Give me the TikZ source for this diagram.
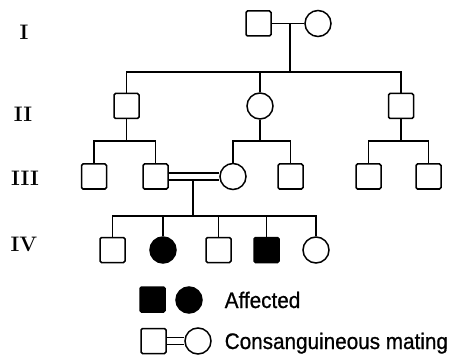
\documentclass[tikz,border=0pt]{standalone}
\usepackage{fontspec}
\newfontfamily\legfont[FakeStretch=0.92,FakeBold=0.8]{Liberation Sans}
\begin{document}
\begin{tikzpicture}[x=1pt,y=-1pt,line width=1.5pt,
  male/.style={draw,rectangle,minimum size=25pt,inner sep=0pt,rounded corners=1.5pt},
  female/.style={draw,circle,minimum size=26pt,inner sep=0pt},
  aff/.style={fill=black},
  gen/.style={font=\bfseries\fontsize{21}{21}\selectfont,inner sep=0pt},
  leg/.style={font=\legfont\fontsize{22.5}{22.5}\selectfont,inner sep=0pt,anchor=base west},
  cons/.style={double,double distance=5.6pt}]
\useasboundingbox (0,0) rectangle (452,358);
% generation labels
\node[gen] (gI) at (24,32) {I};
\node[gen] (gII) at (23,114) {II};
\node[gen] (gIII) at (25,178) {III};
\node[gen] (gIV) at (24,244) {IV};
% generation I
\node[male] (I1) at (258.5,23.5) {};
\node[female] (I2) at (318,23.5) {};
\coordinate (m1) at (290,23.5);
\coordinate (s1) at (290,72);
\draw (I1) -- (I2);
\draw (m1) -- (s1);
% generation II
\node[male] (II1) at (126.5,106) {};
\node[female] (II2) at (260,106) {};
\node[male] (II3) at (401,106) {};
\draw (II1) |- (s1) -| (II3);
\draw (II2) -- (II2 |- s1);
% generation III
\node[male] (III1) at (94,176.5) {};
\node[male] (III2) at (155.5,176.5) {};
\node[female] (III3) at (233,176.5) {};
\node[male] (III4) at (290.5,176.5) {};
\node[male] (III5) at (368.5,176.5) {};
\node[male] (III6) at (428.5,176.5) {};
\coordinate (s2) at (126.5,141);
\coordinate (s3) at (260,141);
\coordinate (s4) at (401,141);
\draw (II1) -- (s2);
\draw (III1) |- (s2) -| (III2);
\draw (II2) -- (s3);
\draw (III3) |- (s3) -| (III4);
\draw (II3) -- (s4);
\draw (III5) |- (s4) -| (III6);
\draw[cons] (III2) -- (III3);
\coordinate (m2) at (193,180);
\coordinate (s5) at (193,216);
\draw (m2) -- (s5);
% generation IV
\node[male] (IV1) at (112.5,250) {};
\node[female,aff] (IV2) at (163,250) {};
\node[male] (IV3) at (218.5,250) {};
\node[male,aff] (IV4) at (266.5,250) {};
\node[female] (IV5) at (316,250) {};
\draw (IV1) |- (s5) -| (IV5);
\draw (IV2) -- (IV2 |- s5);
\draw (IV3) -- (IV3 |- s5);
\draw (IV4) -- (IV4 |- s5);
% legend
\node[male,aff] (L1) at (152.5,299.5) {};
\node[female,aff] (L2) at (189,300) {};
\node[leg] (t1) at (224,308) {Affected};
\node[male] (L3) at (153.5,341) {};
\node[female] (L4) at (198,341) {};
\draw[cons] (L3) -- (L4);
\node[leg] (t2) at (224,349) {Consanguineous mating};
\end{tikzpicture}
\end{document}
